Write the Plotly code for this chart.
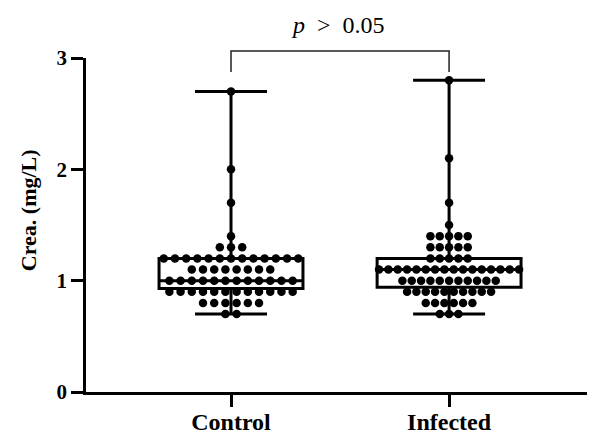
import numpy as np
import plotly.graph_objects as go

# ---- data ----
categories = ["Control", "Infected"]

control_levels = [0.7, 0.8, 0.9, 1.0, 1.1, 1.2, 1.3, 1.4, 1.7, 2.0, 2.7]
control_counts = [2, 6, 12, 12, 8, 13, 3, 1, 1, 1, 1]

infected_levels = [0.7, 0.8, 0.9, 1.0, 1.1, 1.2, 1.3, 1.4, 1.5, 1.7, 2.1, 2.8]
infected_counts = [3, 6, 10, 11, 16, 5, 5, 5, 1, 1, 1, 1]

q1_vals = [0.93, 0.94]
median_vals = [1.0, 1.1]
q3_vals = [1.2, 1.2]
min_vals = [0.7, 0.7]
max_vals = [2.7, 2.8]

y_ticks = [0, 1, 2, 3]
p_text = "<i>p</i>  >  0.05"
y_title = "<b>Crea. (mg/L)</b>"

FONT = "Liberation Serif"

fig = go.Figure()

# box plots (min-to-max whiskers)
fig.add_trace(go.Box(
    x=[0, 1], q1=q1_vals, median=median_vals, q3=q3_vals,
    lowerfence=min_vals, upperfence=max_vals,
    width=0.66, whiskerwidth=0.5,
    line=dict(color="black", width=3),
    fillcolor="rgba(0,0,0,0)", boxpoints=False, hoverinfo="skip",
    showlegend=False,
))

# scatter dots, spread horizontally per value row
base_step = 0.0514
max_span = 0.642
for ci, (levels, counts) in enumerate([(control_levels, control_counts),
                                       (infected_levels, infected_counts)]):
    step = min(base_step, max_span / (max(counts) - 1))
    xs, ys = [], []
    for v, n in zip(levels, counts):
        offs = (np.arange(n) - (n - 1) / 2.0) * step
        xs.extend(ci + offs)
        ys.extend([v] * n)
    fig.add_trace(go.Scatter(
        x=xs, y=ys, mode="markers",
        marker=dict(color="black", size=8.5, line=dict(width=0)),
        showlegend=False, hoverinfo="skip", cliponaxis=False,
    ))

# significance bracket
fig.add_shape(type="path", xref="x", yref="paper",
              path="M 0,0.958 L 0,1.021 L 1,1.021 L 1,0.958",
              line=dict(color="#222", width=1.5))
fig.add_annotation(x=0.49, xref="x", y=1.098, yref="paper",
                   text=p_text, showarrow=False, yanchor="middle",
                   font=dict(family=FONT, size=24, color="black"))
# y-axis title
fig.add_annotation(x=-0.112, xref="paper", y=0.545, yref="paper",
                   text=y_title, showarrow=False, textangle=-90,
                   xanchor="center", yanchor="middle",
                   font=dict(family=FONT, size=22, color="black"))

# page body has an 8px margin, so the figure is sized 8px smaller
fig.update_layout(
    width=587, height=429,
    margin=dict(l=78, r=2, t=50, b=45, autoexpand=False),
    paper_bgcolor="white", plot_bgcolor="white",
    xaxis=dict(range=[-0.665, 1.66], tickvals=[0, 1],
               ticktext=[f"<b>{c}</b>" for c in categories],
               showline=True, linecolor="black", linewidth=2.5,
               ticks="outside", ticklen=12, tickwidth=2.5, tickcolor="black",
               ticklabelstandoff=-6,
               showgrid=False, zeroline=False, automargin=False,
               tickfont=dict(family=FONT, size=24, color="black")),
    yaxis=dict(range=[0, 3], tickvals=y_ticks,
               ticktext=[f"<b>{t}</b>" for t in y_ticks],
               showline=True, linecolor="black", linewidth=2.5,
               ticks="outside", ticklen=12, tickwidth=2.5, tickcolor="black",
               showgrid=False, zeroline=False, automargin=False,
               tickfont=dict(family=FONT, size=21, color="black")),
)

fig.write_html("out.html")
